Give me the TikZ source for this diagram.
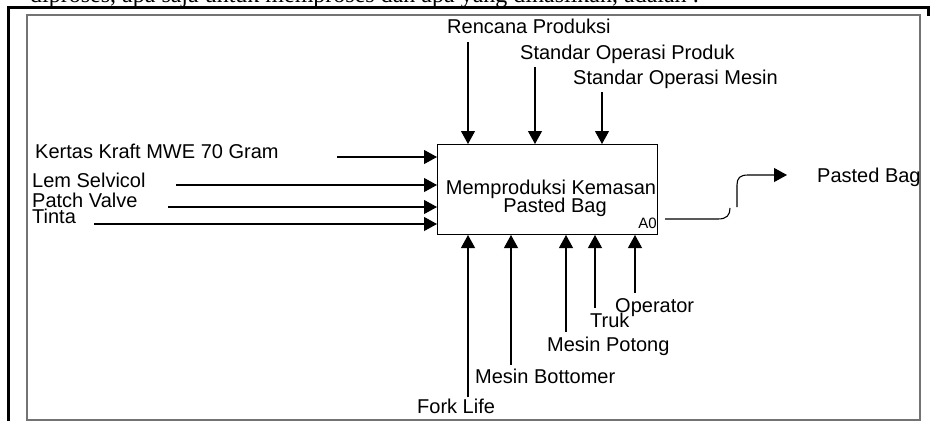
\documentclass[tikz,border=0pt]{standalone}
\usepackage{fontspec}
\setmainfont{Liberation Sans}
\newfontfamily\serifhdr{Liberation Serif}
\usetikzlibrary{arrows.meta}
\begin{document}
\begin{tikzpicture}[x=1pt,y=-1pt,
  lbl/.style={font=\fontsize{20}{20}\selectfont, inner sep=0pt, anchor=base west},
  ctr/.style={font=\fontsize{20}{20}\selectfont, inner sep=0pt, anchor=base},
  conn/.style={line width=1.1pt, -{Triangle[length=13pt,width=14pt]}},
  outer/.style={line width=3pt, black},
  frame/.style={line width=1.5pt, black!55},
  actbox/.style={draw, line width=1pt, minimum width=220pt, minimum height=90pt, inner sep=0pt, anchor=north west},
]
\useasboundingbox (0,0) rectangle (930,421);
% header text (cut at top)
\node[anchor=base west, inner sep=0pt, font=\serifhdr\fontsize{24}{24}\selectfont] (hdr) at (30,2) {diproses, apa saja untuk memproses dan apa yang dihasilkan, adalah :};
% frames
\draw[outer] (8.5,421) -- (8.5,7) -- (928,7) -- (928,16);
\draw[frame] (27,15) rectangle (920,420);
% activity box
\node[actbox] (box) at (437,144) {};
\node[ctr] (t1) at (551,194) {Memproduksi Kemasan};
\node[ctr] (t2) at (555,212) {Pasted Bag};
\node[inner sep=0pt, anchor=base east, font=\fontsize{15}{15}\selectfont] (a0) at (657,228) {A0};
% controls (top)
\node[lbl] (rp) at (447,33) {Rencana Produksi};
\node[lbl] (sop) at (520,59) {Standar Operasi Produk};
\node[lbl] (som) at (573,84) {Standar Operasi Mesin};
\coordinate (crp) at (468,42);
\coordinate (csop) at (535,67);
\coordinate (csom) at (602,92);
\draw[conn] (crp) -- (crp |- box.north);
\draw[conn] (csop) -- (csop |- box.north);
\draw[conn] (csom) -- (csom |- box.north);
% inputs (left)
\node[lbl] (kk) at (35,158) {Kertas Kraft MWE 70 Gram};
\node[lbl] (lem) at (32,187) {Lem Selvicol};
\node[lbl] (pv) at (32,207) {Patch Valve};
\node[lbl] (tin) at (32,223) {Tinta};
\coordinate (ckk) at (337,157);
\coordinate (clem) at (176,185);
\coordinate (cpv) at (168,207);
\coordinate (ctin) at (94,224);
\draw[conn] (ckk) -- (ckk -| box.west);
\draw[conn] (clem) -- (clem -| box.west);
\draw[conn] (cpv) -- (cpv -| box.west);
\draw[conn] (ctin) -- (ctin -| box.west);
% mechanisms (bottom)
\node[lbl] (fl) at (417,413) {Fork Life};
\node[lbl] (mb) at (475,383) {Mesin Bottomer};
\node[lbl] (mp) at (547,351) {Mesin Potong};
\node[lbl] (tr) at (590,327) {Truk};
\node[lbl] (op) at (615,312) {Operator};
\coordinate (cfl) at (468,397);
\coordinate (cmb) at (511,365);
\coordinate (cmp) at (566,332);
\coordinate (ctr) at (595,308);
\coordinate (cop) at (635,293);
\draw[conn] (cfl) -- (cfl |- box.south);
\draw[conn] (cmb) -- (cmb |- box.south);
\draw[conn] (cmp) -- (cmp |- box.south);
\draw[conn] (ctr) -- (ctr |- box.south);
\draw[conn] (cop) -- (cop |- box.south);
% output
\node[lbl] (pb) at (817,182) {Pasted Bag};
\coordinate (o1) at (665,219);
\coordinate (o2) at (737,207);
\coordinate (oend) at (787,175);
\draw[line width=1.1pt] (o1) -- (718,219) .. controls (727,219) and (730,215) .. (730,208);
\draw[conn] (o2) -- (737,185) .. controls (737,178) and (740,175) .. (748,175) -- (oend);
\end{tikzpicture}
\end{document}
